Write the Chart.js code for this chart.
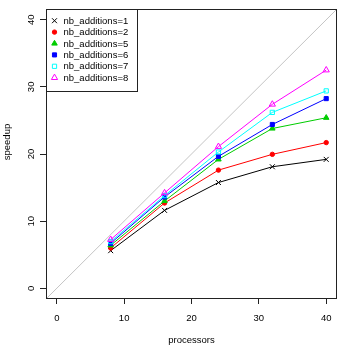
<!DOCTYPE html>
<html>
<head>
<meta charset="utf-8">
<script src="https://cdn.jsdelivr.net/npm/chart.js@4/dist/chart.umd.min.js"></script>
<style>
  html, body { margin: 0; padding: 0; background: #ffffff; }
  canvas { display: block; }
</style>
</head>
<body>
<canvas id="c" width="346" height="346"></canvas>
<script>
// ---- data ----
const processors = [8, 16, 24, 32, 40];
const nbAdd1 = [5.6, 11.6, 15.75, 18.1, 19.2];
const nbAdd2 = [6.0, 12.7, 17.6, 19.95, 21.7];
const nbAdd5 = [6.4, 13.0, 19.2, 23.8, 25.4];
const nbAdd6 = [6.7, 13.6, 19.65, 24.4, 28.25];
const nbAdd7 = [6.95, 13.8, 20.3, 26.2, 29.4];
const nbAdd8 = [7.25, 14.2, 21.1, 27.4, 32.5];
const seriesLabels = ['nb_additions=1', 'nb_additions=2', 'nb_additions=5', 'nb_additions=6', 'nb_additions=7', 'nb_additions=8'];
const identityLine = [-1.6, 41.6];   // y = x reference line, across the plot range
const xTicks = [0, 10, 20, 30, 40];
const yTicks = [0, 10, 20, 30, 40];
const axisRange = [-1.6, 41.6];
const xTitle = 'processors';
const yTitle = 'speedup';

// ---- styling ----
const FONT = 'Liberation Sans, Arial, Helvetica, sans-serif';
const FS = 9.5;
const styles = [
  { color: '#000000', pointStyle: 'crossRot', radius: 3.5, fill: false },
  { color: '#FF0000', pointStyle: 'circle', radius: 2.2, fill: true },
  { color: '#00CD00', pointStyle: 'triangle', radius: 3.2, fill: true },
  { color: '#0000FF', pointStyle: 'rect', radius: 2.9, fill: true },
  { color: '#00FFFF', pointStyle: 'rect', radius: 3.0, fill: false },
  { color: '#FF00FF', pointStyle: 'triangle', radius: 3.6, fill: false }
];
const seriesValues = [nbAdd1, nbAdd2, nbAdd5, nbAdd6, nbAdd7, nbAdd8];

const datasets = seriesValues.map((vals, i) => ({
  label: seriesLabels[i],
  data: processors.map((p, j) => ({ x: p, y: vals[j] })),
  showLine: true,
  borderColor: styles[i].color,
  borderWidth: 1,
  pointStyle: styles[i].pointStyle,
  pointRadius: styles[i].radius,
  pointBorderWidth: 1,
  pointBorderColor: styles[i].color,
  pointBackgroundColor: styles[i].fill ? styles[i].color : 'rgba(0,0,0,0)',
  order: 6 - i
}));
datasets.push({
  label: 'identity',
  data: identityLine.map(v => ({ x: v, y: v })),
  showLine: true,
  borderColor: '#C4C4C4',
  borderWidth: 1,
  pointRadius: 0,
  order: 100
});

const rPlugin = {
  id: 'rStyle',
  beforeDraw(chart) {
    const ctx = chart.ctx;
    ctx.save();
    ctx.fillStyle = '#ffffff';
    ctx.fillRect(0, 0, chart.width, chart.height);
    ctx.restore();
  },
  afterDraw(chart) {
    const ctx = chart.ctx;
    const a = chart.chartArea;
    const ys = chart.scales.y;
    ctx.save();
    // plot box
    ctx.strokeStyle = '#222';
    ctx.lineWidth = 1;
    ctx.strokeRect(Math.round(a.left) + 0.5, Math.round(a.top) + 0.5,
                   Math.round(a.right - a.left) - 1, Math.round(a.bottom - a.top) - 1);
    // y tick labels (rotated, R style)
    ctx.fillStyle = '#000';
    ctx.font = FS + 'px ' + FONT;
    ctx.textAlign = 'center';
    ctx.textBaseline = 'middle';
    yTicks.forEach(v => {
      const py = ys.getPixelForValue(v);
      ctx.save();
      ctx.translate(31, py);
      ctx.rotate(-Math.PI / 2);
      ctx.fillText(String(v), 0, 0);
      ctx.restore();
    });
    // y axis title
    ctx.save();
    ctx.translate(7.5, 142);
    ctx.rotate(-Math.PI / 2);
    ctx.fillText(yTitle, 0, 0);
    ctx.restore();

    // legend (top-left of plot area, boxed)
    const lx = a.left, ly = a.top, lw = 91, lh = 82;
    ctx.fillStyle = '#ffffff';
    ctx.fillRect(lx, ly, lw, lh);
    ctx.strokeStyle = '#222';
    ctx.strokeRect(Math.round(lx) + 0.5, Math.round(ly) + 0.5, lw, lh);
    const rowH = 11.4;
    chart.data.datasets.slice(0, seriesLabels.length).forEach((ds, i) => {
      const cy = ly + 11.7 + i * rowH;
      ctx.strokeStyle = ds.pointBorderColor;
      ctx.fillStyle = ds.pointBackgroundColor;
      ctx.lineWidth = 1;
      Chart.helpers.drawPoint(ctx, { pointStyle: ds.pointStyle, radius: ds.pointRadius, borderWidth: 1, rotation: 0 }, lx + 8.5, cy);
      ctx.fillStyle = '#000';
      ctx.textAlign = 'left';
      ctx.textBaseline = 'middle';
      ctx.font = FS + 'px ' + FONT;
      ctx.fillText(ds.label, lx + 17.5, cy + 0.5);
    });
    ctx.restore();
  }
};

new Chart(document.getElementById('c'), {
  type: 'scatter',
  data: { datasets },
  options: {
    responsive: false,
    animation: false,
    events: [],
    layout: { padding: { top: 9, right: 9, left: 0, bottom: 0 } },
    plugins: { legend: { display: false }, tooltip: { enabled: false } },
    scales: {
      x: {
        type: 'linear',
        min: axisRange[0],
        max: axisRange[1],
        afterBuildTicks: s => { s.ticks = xTicks.map(v => ({ value: v })); },
        afterFit: s => { s.height = 47; },
        grid: { display: true, drawOnChartArea: false, drawTicks: true, tickLength: 5, color: '#222', tickColor: '#222' },
        border: { display: false },
        ticks: { color: '#000', font: { family: FONT, size: FS }, padding: 9, maxRotation: 0, minRotation: 0 },
        title: { display: true, text: xTitle, color: '#000', font: { family: FONT, size: FS }, padding: { top: 0, bottom: 0 } }
      },
      y: {
        type: 'linear',
        min: axisRange[0],
        max: axisRange[1],
        afterBuildTicks: s => { s.ticks = yTicks.map(v => ({ value: v })); },
        afterFit: s => { s.width = 46; },
        grid: { display: true, drawOnChartArea: false, drawTicks: true, tickLength: 6, color: '#222', tickColor: '#222' },
        border: { display: false },
        ticks: { display: false }
      }
    }
  },
  plugins: [rPlugin]
});
</script>
</body>
</html>
